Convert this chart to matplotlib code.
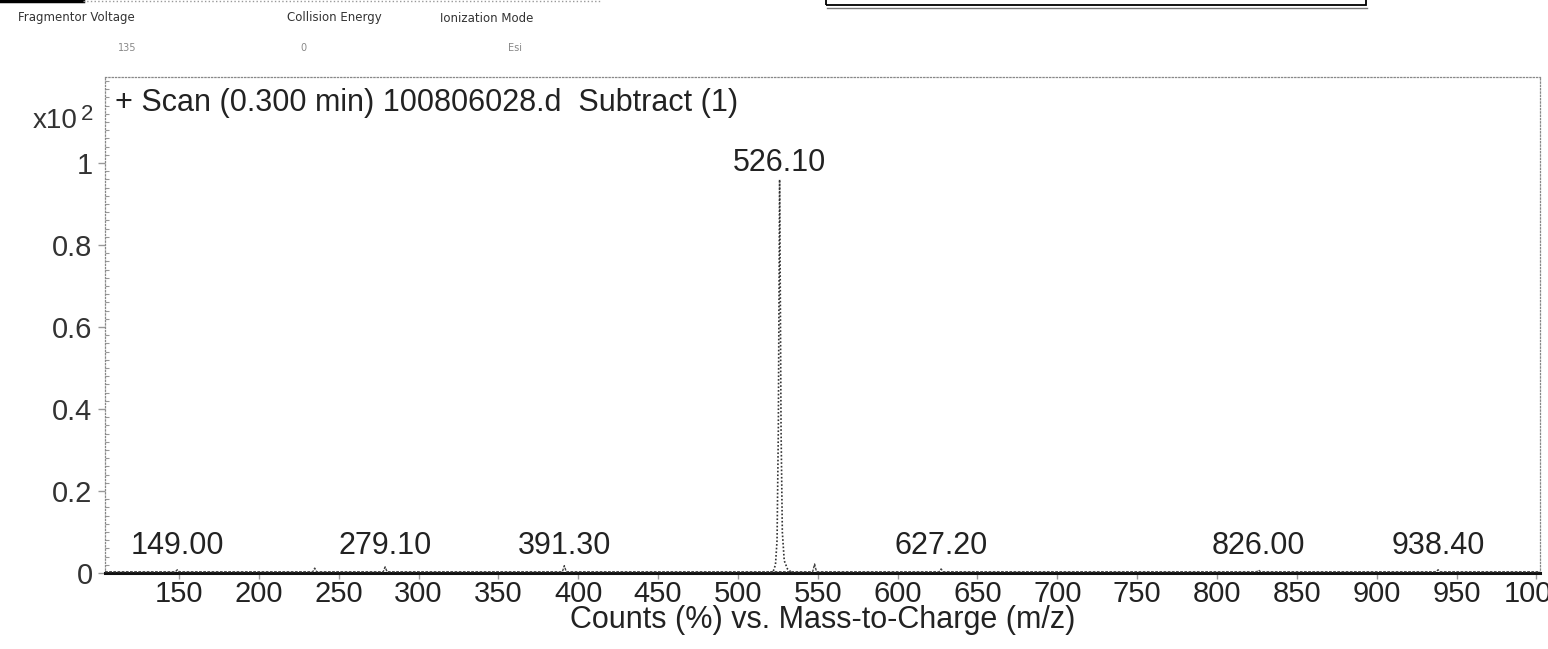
import matplotlib
matplotlib.use("Agg")
import matplotlib.pyplot as plt
from matplotlib.patches import Rectangle
from matplotlib.lines import Line2D

plt.rcParams['font.family'] = ['Liberation Sans', 'DejaVu Sans']

# acquisition parameters shown in the header
param_names = ["Fragmentor Voltage", "Collision Energy", "Ionization Mode"]
param_values = ["135", "0", "Esi"]

# labelled peaks (m/z) and their heights (x10^2 counts)
peak_mz = [149.00, 279.10, 391.30, 526.10, 627.20, 826.00, 938.40]
peak_height = [0.008, 0.015, 0.018, 0.96, 0.010, 0.007, 0.008]

# profile of the base peak around 526.10
base_mz = [518.0, 522.0, 523.5, 524.5, 525.3, 525.8, 526.1, 526.5, 527.0, 527.8, 529.0, 531.0, 534.0]
base_int = [0.0, 0.003, 0.02, 0.08, 0.35, 0.75, 0.96, 0.70, 0.35, 0.10, 0.03, 0.01, 0.0]

# small unlabelled bumps on the baseline
bump_mz = [235.0, 548.0]
bump_int = [0.012, 0.022]

x_ticks = list(range(150, 1001, 50))
y_ticks = [0, 0.2, 0.4, 0.6, 0.8, 1]
y_ticklabels = ["0", "0.2", "0.4", "0.6", "0.8", "1"]

W, H = 1548, 649
fig = plt.figure(figsize=(W / 100, H / 100), dpi=100)


def fx(px):
    return px / W


def fy(py):
    return 1 - py / H


# header strip
fig.add_artist(Line2D([0, fx(83)], [fy(1), fy(1)], color='black', lw=2.5))
fig.add_artist(Line2D([fx(83), fx(600)], [fy(1), fy(1)], color='#999999', lw=1, ls=':'))
name_x = [18, 287, 440]
value_x = [118, 300, 508]
for name, nx, val, vx in zip(param_names, name_x, param_values, value_x):
    fig.text(fx(nx), fy(18), name, fontsize=8.5, color='#333333', va='center',
             family='DejaVu Sans')
    fig.text(fx(vx), fy(48), val, fontsize=7, color='#888888', va='center',
             family='DejaVu Sans')

# box at top right
fig.add_artist(Rectangle((fx(826), fy(5)), fx(1366) - fx(826), fy(-5) - fy(5),
                         fill=False, edgecolor='black', lw=1.3))
fig.add_artist(Line2D([fx(827), fx(1367)], [fy(7.5), fy(7.5)], color='#777777', lw=1))

ax = fig.add_axes([fx(105), fy(573), fx(1540) - fx(105), fy(77) - fy(573)])
ax.set_xlim(103.7, 1002.2)
ax.set_ylim(0, 1.21)

# baseline trace with the small peaks
trace_x = [103.7]
trace_y = [0.003]
for mz, h in sorted(zip(peak_mz + bump_mz, peak_height + bump_int)):
    if abs(mz - 526.10) < 1:
        continue
    trace_x += [mz - 1.2, mz, mz + 1.2]
    trace_y += [0.003, h, 0.003]
trace_x.append(1002.2)
trace_y.append(0.003)
ax.plot(trace_x, trace_y, color='#444444', lw=1.0, ls=(0, (2, 1)), zorder=3)

# base peak, drawn thin and dotted like the printed trace
ax.plot(base_mz, base_int, color='#333333', lw=1.2, ls=(0, (1, 1.2)), zorder=3)

# peak annotations
for mz, h in zip(peak_mz, peak_height):
    y = h + 0.004 if h > 0.5 else 0.03
    ax.text(mz, y, f"{mz:.2f}", ha='center', va='bottom', fontsize=22, color='#222222')

ax.text(fx(115), fy(103), "+ Scan (0.300 min) 100806028.d  Subtract (1)", transform=fig.transFigure,
        fontsize=22, va='center', ha='left', color='#222222')
fig.text(fx(78), fy(121), "x10", fontsize=20, ha='right', va='center', color='#333333')
fig.text(fx(81), fy(115), "2", fontsize=16, ha='left', va='center', color='#333333')

ax.set_xticks(x_ticks)
ax.set_xticklabels([str(t) for t in x_ticks])
ax.set_yticks(y_ticks)
ax.set_yticklabels(y_ticklabels)
ax.set_yticks([i * 0.02 for i in range(61)], minor=True)
ax.tick_params(axis='x', direction='out', length=4, width=1, color='#999999',
               labelsize=21, pad=1, labelcolor='#222222')
ax.tick_params(axis='y', which='major', direction='out', length=5, width=1, color='#999999',
               labelsize=21, pad=4, labelcolor='#333333')
ax.tick_params(axis='y', which='minor', direction='in', length=3, width=0.8, color='#999999')
ax.set_xlabel("Counts (%) vs. Mass-to-Charge (m/z)", fontsize=22, labelpad=-2, color='#222222')

for side in ['top', 'right', 'left']:
    ax.spines[side].set_color('#888888')
    ax.spines[side].set_linewidth(0.9)
    ax.spines[side].set_linestyle(':')
ax.spines['bottom'].set_color('#111111')
ax.spines['bottom'].set_linewidth(2.2)

fig.savefig("out.png", dpi=100)
